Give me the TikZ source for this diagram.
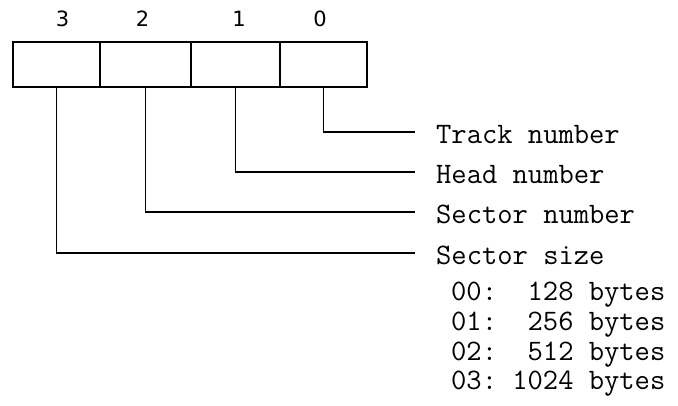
\documentclass[tikz,border=0pt]{standalone}
\usepackage{fontspec}
\newfontfamily\bitfont{DejaVu Sans}
\usetikzlibrary{positioning}

\begin{document}
\begin{tikzpicture}[
x=1pt,y=-1pt,
field/.style={rectangle,draw,line width=1.5pt,minimum height=45pt,anchor=north west,inner sep=0pt,outer sep=0pt},
bit/.style={font=\bitfont\fontsize{21}{23}\selectfont,inner sep=0pt},
lbl/.style={anchor=west,inner ysep=0pt,inner xsep=21pt,text height=28pt,text depth=4pt,font=\ttfamily\fontsize{29.7}{32}\selectfont},
sz/.style={anchor=base west,inner sep=0pt,font=\ttfamily\fontsize{29.7}{32}\selectfont},
lead/.style={line width=1.5pt}
]
\useasboundingbox (0,0) rectangle (678,406);
\node[field,minimum width=87pt] (f3) at (13,42) {};
\node[field,minimum width=91pt] (f2) at (f3.north east) {};
\node[field,minimum width=89pt] (f1) at (f2.north east) {};
\node[field,minimum width=87pt] (f0) at (f1.north east) {};

\node[bit] (b3) at (62.5,19) {3};
\node[bit] (b2) at (142.5,19) {2};
\node[bit] (b1) at (239,19) {1};
\node[bit] (b0) at (320,19) {0};

\node[lbl] (track) at (415,132) {Track number};
\node[lbl] (head) at (415,172) {Head number};
\node[lbl] (secnum) at (415,212) {Sector number};
\node[lbl] (secsize) at (415,253) {Sector size};

\node[sz] (size0) at (451,301) {00:~~128 bytes};
\node[sz] (size1) at (451,330.5) {01:~~256 bytes};
\node[sz] (size2) at (451,360) {02:~~512 bytes};
\node[sz] (size3) at (451,389.5) {03:~1024 bytes};

\draw[lead] (f0.south) |- (track.west);
\draw[lead] (f1.south) |- (head.west);
\draw[lead] (f2.south) |- (secnum.west);
\draw[lead] (f3.south) |- (secsize.west);
\end{tikzpicture}
\end{document}
